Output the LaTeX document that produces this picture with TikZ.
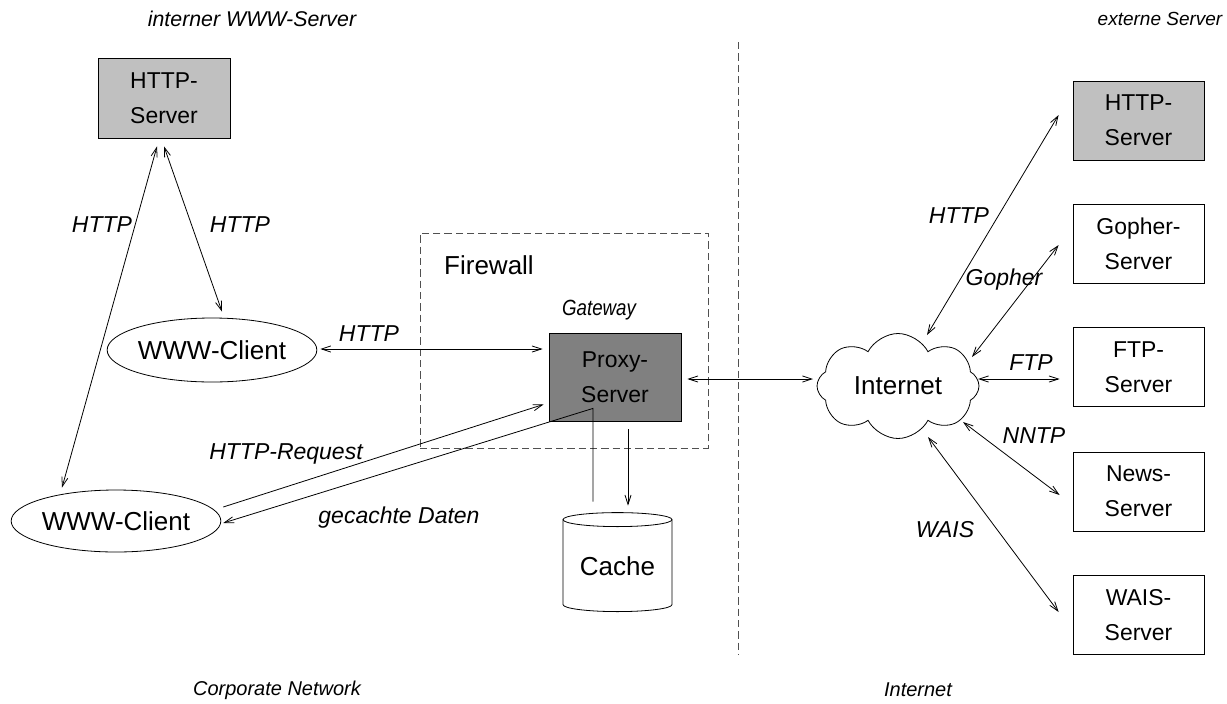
\documentclass[tikz,border=0pt]{standalone}
\usepackage{fontspec}
\setmainfont{Liberation Sans}
\usetikzlibrary{arrows.meta,calc,shapes.symbols,shapes.geometric}

\definecolor{srvgray}{HTML}{C0C0C0}
\definecolor{proxygray}{HTML}{808080}
\definecolor{dashgray}{HTML}{505050}

\begin{document}
\begin{tikzpicture}[x=0.75pt,y=-0.75pt,line width=0.6pt,
  barb/.tip={Straight Barb[length=7pt,width=4.6pt]},
  onearrow/.style={-barb},
  twoarrow/.style={barb-barb},
  boxfont/.style={font=\fontsize{17.2pt}{26pt}\selectfont},
  bigfont/.style={font=\fontsize{19.5pt}{23pt}\selectfont},
  srvbox/.style={draw,rectangle,inner sep=0pt,align=center,boxfont,
    minimum width=131*0.75pt,minimum height=79*0.75pt},
  client/.style={draw,ellipse,inner sep=0pt,bigfont},
  lbl/.style={inner sep=0pt,font=\fontsize{17.25pt}{20pt}\selectfont\itshape},
  caption/.style={inner sep=0pt,font=\fontsize{15pt}{18pt}\selectfont\itshape},
  dashline/.style={draw=dashgray,dash pattern=on 5.5pt off 3pt,line width=0.6pt}
]
\useasboundingbox (0,0) rectangle (1227,703);

% region divider
\coordinate (dtop) at (738,42);
\coordinate (dbot) at (738,655);
\draw[dashline] (dtop) -- (dbot);

% firewall frame
\node[dashline,rectangle,inner sep=0pt,minimum width=288*0.75pt,minimum height=215*0.75pt] (fw) at (564,340.5) {};
\node[inner sep=0pt,bigfont] (fwlabel) at (489,265) {Firewall};

% corporate side
\node[srvbox,fill=srvgray,minimum width=132*0.75pt,minimum height=80*0.75pt] (hsl) at (164,98) {HTTP-\\Server};
\node[client,minimum width=202*0.75pt,minimum height=64*0.75pt] (cl1) at (212,350) {WWW-Client};
\node[client,minimum width=208*0.75pt,minimum height=62*0.75pt] (cl2) at (116,521) {WWW-Client};
\node[srvbox,fill=proxygray,minimum width=132*0.75pt,minimum height=88*0.75pt] (px) at (615,377) {Proxy-\\Server};
\node[inner sep=0pt,xscale=0.85,font=\fontsize{16.5pt}{18pt}\selectfont\itshape] (gw) at (599,310) {Gateway};

% cache drum
\node[inner sep=0pt,bigfont,minimum width=109*0.75pt,minimum height=106*0.75pt] (cache) at (617.5,566) {Cache};
\draw ($(cache.north)+(0,7)$) ellipse [x radius=40.875pt,y radius=5.25pt];
\draw ($(cache.north)+(-54.5,7)$) -- ($(cache.north)+(-54.5,92)$)
  arc[start angle=180,end angle=360,x radius=40.875pt,y radius=5.25pt]
  -- ($(cache.north)+(54.5,7)$);

% internet side
\node[cloud,draw,cloud puffs=8,cloud puff arc=125,aspect=1.55,inner sep=0pt,bigfont,
  minimum width=162*0.75pt,minimum height=105*0.75pt] (inet) at (898,386) {Internet};
\node[srvbox,fill=srvgray] (hr) at (1138.5,120.5) {HTTP-\\Server};
\node[srvbox] (gs) at (1138.5,243.5) {Gopher-\\Server};
\node[srvbox] (fs) at (1138.5,367) {FTP-\\Server};
\node[srvbox] (ns) at (1138.5,491.5) {News-\\Server};
\node[srvbox] (ws) at (1138.5,615) {WAIS-\\Server};

% connectors, corporate side
\draw[twoarrow] ($(cl2.north)+(-54,-2)$) -- ($(hsl.south)+(-7,8)$);
\draw[twoarrow] ($(hsl.south)+(0,8)$) -- ($(cl1.north)+(10,-6)$);
\draw[twoarrow] ($(cl1.east)+(3,-1)$) -- ($(px.west)+(-6,-28)$);
\draw[onearrow] ($(cl2.east)+(2,-14)$) -- ($(px.south west)+(-5,-17)$);
\draw[onearrow] ($(cache.north)+(-24.5,-11)$) -- ($(px.south)+(-22,-13)$) -- ($(cl2.east)+(2,2)$);
\draw[onearrow] ($(px.south)+(13,8)$) -- ($(cache.north)+(10.5,-7)$);
\draw[twoarrow] ($(px.east)+(6,2)$) -- ($(inet.center)+(-85,-7)$);

% connectors, internet side
\draw[twoarrow] ($(inet.center)+(29,-51)$) -- ($(hr.west)+(-14,-5.5)$);
\draw[twoarrow] ($(inet.center)+(74,-29)$) -- ($(gs.west)+(-14,1.5)$);
\draw[twoarrow] ($(inet.center)+(80,-7)$) -- ($(fs.west)+(-13,12)$);
\draw[twoarrow] ($(inet.center)+(65,36)$) -- ($(ns.west)+(-13,3.5)$);
\draw[twoarrow] ($(inet.center)+(30,51)$) -- ($(ws.west)+(-14,-3)$);

% protocol labels
\node[lbl] (l1) at (102,225) {HTTP};
\node[lbl] (l2) at (240,225) {HTTP};
\node[lbl] (l3) at (369,334) {HTTP};
\node[lbl] (l4) at (286,454) {HTTP-Request};
\node[lbl] (l5) at (399,518) {gecachte Daten};
\node[lbl] (l6) at (959,216) {HTTP};
\node[lbl] (l7) at (1004,280) {Gopher};
\node[lbl] (l8) at (1031,363) {FTP};
\node[lbl] (l9) at (1034,436) {NNTP};
\node[lbl] (l10) at (945,530) {WAIS};

% headings and captions
\node[inner sep=0pt,font=\fontsize{16pt}{18pt}\selectfont\itshape] (t1) at (252,19) {interner WWW-Server};
\node[inner sep=0pt,font=\fontsize{14.25pt}{17pt}\selectfont\itshape] (t2) at (1160,19) {externe Server};
\node[caption] (c1) at (277,690) {Corporate Network};
\node[caption] (c2) at (918,690) {Internet};
\end{tikzpicture}
\end{document}
